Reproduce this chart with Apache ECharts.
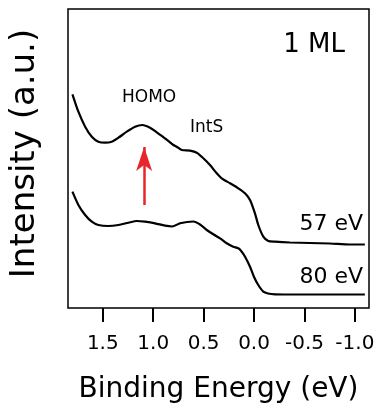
<!DOCTYPE html>
<html>
<head>
<meta charset="utf-8">
<script src="https://cdn.jsdelivr.net/npm/echarts@6/dist/echarts.min.js"></script>
<style>html,body{margin:0;padding:0;background:#fff}#c{width:375px;height:408px}</style>
</head>
<body>
<div id="c"></div>
<script>
// Binding energy (eV) and intensity (a.u.)
var energy57 = [1.801,1.742,1.675,1.609,1.544,1.477,1.411,1.345,1.262,1.180,1.108,1.031,0.965,0.883,0.800,0.767,0.717,0.635,0.568,0.503,0.437,0.370,0.321,0.238,0.156,0.090,0.040,-0.009,-0.042,-0.092,-0.141,-0.208,-0.356,-0.554,-0.753,-0.951,-1.099];
var intensity57 = [213.7,196.3,181.3,171.3,166.3,165.3,166.3,170.3,176.3,181.3,183,180.3,175.7,169.7,163,161.3,158,157.3,155.3,149.7,143,134.7,129.7,124.7,119.7,114.7,108,94.7,83,71.3,67,66.3,65.5,65,64.5,63.5,63.5];
var energy80 = [1.801,1.742,1.675,1.609,1.544,1.445,1.345,1.246,1.163,1.081,0.982,0.883,0.813,0.734,0.665,0.602,0.536,0.469,0.404,0.337,0.271,0.206,0.156,0.122,0.089,0.040,0.0,-0.042,-0.092,-0.138,-0.208,-0.456,-0.753,-1.099];
var intensity80 = [116.3,103,93,86.3,83,82,83,85.3,87,86.3,84.7,82.3,81.5,84.7,86,86.5,83.5,78,73.7,69.7,64.7,61.3,59.7,56.3,51.3,41.3,31,23,16.3,14.5,13.7,13.5,13.5,13.5];
var seriesNames = ['57 eV','80 eV'];
var xTicks = [1.5,1.0,0.5,0.0,-0.5,-1.0];
var arrowEnergy = 1.09;
var arrowFrom = 103, arrowTo = 161;

function pairs(xs, ys){ return xs.map(function(x,i){ return [x, ys[i]]; }); }

var chart = echarts.init(document.getElementById('c'), null, {renderer:'canvas'});
var FONT = 'DejaVu Sans';
chart.setOption({
  animation: false,
  backgroundColor: '#fff',
  textStyle: {fontFamily: FONT},
  grid: {left: 68, right: 6, top: 9, bottom: 100, show: true, borderColor: '#000', borderWidth: 1.5, backgroundColor: 'transparent',
         containLabel: false, outerBoundsMode: 'none'},
  xAxis: {
    type: 'value', inverse: true, min: -1.14, max: 1.845,
    axisLine: {show: false},
    splitLine: {show: false},
    axisTick: {show: true, inside: false, length: 14, lineStyle: {color: '#000', width: 2},
      customValues: xTicks},
    axisLabel: {show: true, margin: 26, color: '#000', fontSize: 20, fontFamily: FONT,
      customValues: xTicks,
      formatter: function(v){ return v.toFixed(1); }},
    name: 'Binding Energy (eV)', nameLocation: 'middle', nameGap: 68,
    nameTextStyle: {fontSize: 28, color: '#000', fontFamily: FONT}
  },
  yAxis: {
    type: 'value', min: 0, max: 299,
    axisLine: {show: false}, axisTick: {show: false}, axisLabel: {show: false}, splitLine: {show: false},
    name: 'Intensity (a.u.)', nameLocation: 'middle', nameGap: 26, nameRotate: 90,
    nameTextStyle: {fontSize: 34, color: '#000', fontFamily: FONT, padding: [0, 0, 0, 10]}
  },
  series: [
    {name: seriesNames[0], type: 'line', data: pairs(energy57, intensity57), smooth: 0.25, showSymbol: false,
     lineStyle: {color: '#000', width: 2.2},
     markLine: {silent: true, animation: false, symbol: ['none','arrow'],
       lineStyle: {color: '#e8252a', width: 2.5, type: 'solid'},
       label: {show: false},
       data: [[{coord: [arrowEnergy, arrowFrom], symbol: 'none'}, {coord: [arrowEnergy, arrowTo], symbol: 'arrow', symbolSize: [12, 24]}]]
     }},
    {name: seriesNames[1], type: 'line', data: pairs(energy80, intensity80), smooth: 0.25, showSymbol: false,
     lineStyle: {color: '#000', width: 2.2}}
  ],
  graphic: [
    {type: 'text', style: {text: '1 ML', x: 345, y: 45, align: 'right', verticalAlign: 'middle', fontSize: 26, fontFamily: FONT, fill: '#000'}},
    {type: 'text', style: {text: 'HOMO', x: 122, y: 98, align: 'left', verticalAlign: 'middle', fontSize: 17, fontFamily: FONT, fill: '#000'}},
    {type: 'text', style: {text: 'IntS', x: 190, y: 128, align: 'left', verticalAlign: 'middle', fontSize: 17, fontFamily: FONT, fill: '#000'}},
    {type: 'text', style: {text: seriesNames[0], x: 363, y: 224, align: 'right', verticalAlign: 'middle', fontSize: 22, fontFamily: FONT, fill: '#000'}},
    {type: 'text', style: {text: seriesNames[1], x: 363, y: 277, align: 'right', verticalAlign: 'middle', fontSize: 22, fontFamily: FONT, fill: '#000'}}
  ]
});
</script>
</body>
</html>
